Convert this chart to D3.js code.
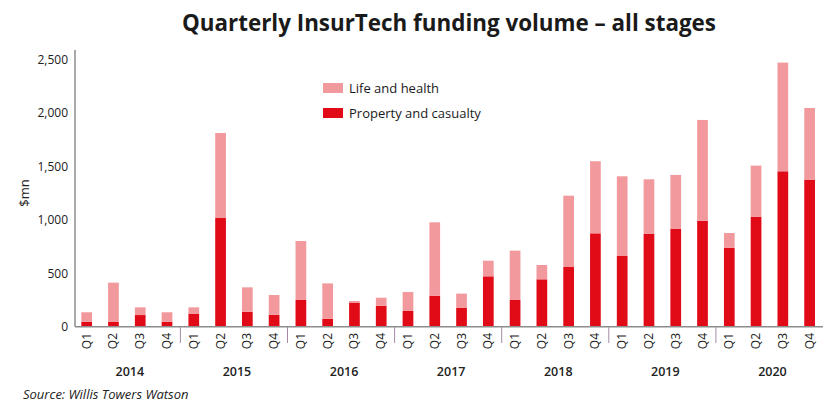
<!DOCTYPE html>
<html>
<head>
<meta charset="utf-8">
<script src="https://cdn.jsdelivr.net/npm/d3@7"></script>
<style>
  html, body { margin: 0; padding: 0; background: #fff; }
  svg { display: block; font-family: "Open Sans", sans-serif; }
</style>
</head>
<body>
<svg id="chart" width="840" height="419"></svg>
<script>
const years = ["2014", "2015", "2016", "2017", "2018", "2019", "2020"];
const quarters = ["Q1", "Q2", "Q3", "Q4"];
const propertyCasualty = [
  47, 44, 109, 47,
  119, 1020, 140, 112,
  250, 75, 225, 196,
  147, 290, 178, 471,
  250, 443, 558, 873,
  661, 867, 917, 991,
  739, 1029, 1453, 1375
];
const lifeHealth = [
  88, 368, 72, 88,
  62, 791, 228, 184,
  551, 330, 15, 75,
  178, 686, 131, 146,
  461, 134, 667, 674,
  745, 511, 502, 942,
  137, 477, 1016, 670
];
const yTicks = [0, 500, 1000, 1500, 2000, 2500];
const seriesNames = ["Life and health", "Property and casualty"];
const colors = { pc: "#e10a17", lh: "#f2999e" };

const svg = d3.select("#chart");

const periods = [];
years.forEach(y => quarters.forEach(q => periods.push(y + " " + q)));
const data = periods.map((p, i) => ({
  id: p, year: p.split(" ")[0], q: p.split(" ")[1],
  pc: propertyCasualty[i], lh: lifeHealth[i]
}));

const x = d3.scaleBand().domain(periods).range([73.3, 823]).paddingInner(0.6).paddingOuter(0.3);
const y = d3.scaleLinear().domain([0, 2500]).range([326.7, 59.3]);

// title
svg.append("text").attr("x", 449).attr("y", 31).attr("text-anchor", "middle")
  .attr("font-size", 22.4).attr("font-weight", 700).attr("fill", "#1a1a1a")
  .text("Quarterly InsurTech funding volume \u2013 all stages");

// bars
const stack = d3.stack().keys(["pc", "lh"])(data);
svg.append("g").selectAll("g").data(stack).join("g")
  .attr("fill", d => colors[d.key])
  .selectAll("rect").data(d => d).join("rect")
  .attr("x", d => x(d.data.id))
  .attr("width", x.bandwidth())
  .attr("y", d => y(d[1]))
  .attr("height", d => y(d[0]) - y(d[1]));

// y axis
const yAxis = svg.append("g").attr("transform", "translate(75,0)")
  .call(d3.axisLeft(y).tickValues(yTicks).tickSize(0).tickPadding(7).tickFormat(d3.format(",")));
yAxis.select(".domain").remove();
yAxis.selectAll("text").attr("font-size", 12).attr("fill", "#222").attr("font-family", "Open Sans");
svg.append("line").attr("x1", 75).attr("x2", 75).attr("y1", 50).attr("y2", y(0))
  .attr("stroke", "#8c8c8c").attr("stroke-width", 1.5);
svg.append("text").attr("transform", `translate(29,${(y(0) + y(2500)) / 2}) rotate(-90)`)
  .attr("text-anchor", "middle").attr("font-size", 13).attr("fill", "#222").text("$mn");

// x axis
svg.append("line").attr("x1", 75).attr("x2", 823).attr("y1", y(0)).attr("y2", y(0))
  .attr("stroke", "#8c8c8c").attr("stroke-width", 1.5);
svg.append("g").selectAll("text").data(data).join("text")
  .attr("transform", d => `translate(${x(d.id) + x.bandwidth() / 2 + 4},333) rotate(-90)`)
  .attr("text-anchor", "end").attr("font-size", 12).attr("fill", "#222")
  .text(d => d.q);

// year separators
const step = x.step();
years.slice(1).forEach(yr => {
  const sx = x(yr + " Q1") - (step - x.bandwidth()) / 2;
  svg.append("line").attr("x1", sx).attr("x2", sx).attr("y1", y(0)).attr("y2", 343)
    .attr("stroke", "#a58aa8").attr("stroke-width", 1);
});
svg.append("g").selectAll("text").data(years).join("text")
  .attr("x", yr => (x(yr + " Q1") + x(yr + " Q4") + x.bandwidth()) / 2 + 3)
  .attr("y", 376).attr("text-anchor", "middle").attr("font-size", 12.5)
  .attr("font-weight", 600).attr("fill", "#222").text(yr => yr);

// legend
const legend = svg.append("g").attr("transform", "translate(323,83)");
[["lh", seriesNames[0]], ["pc", seriesNames[1]]].forEach(([k, name], i) => {
  legend.append("rect").attr("x", 0).attr("y", i * 25).attr("width", 20).attr("height", 10).attr("fill", colors[k]);
  legend.append("text").attr("x", 26).attr("y", i * 25 + 9.5).attr("font-size", 13).attr("fill", "#1a1a1a").text(name);
});

// source
svg.append("text").attr("x", 23).attr("y", 399).attr("font-size", 13).attr("font-style", "italic")
  .attr("fill", "#222").text("Source: Willis Towers Watson");
</script>
</body>
</html>
